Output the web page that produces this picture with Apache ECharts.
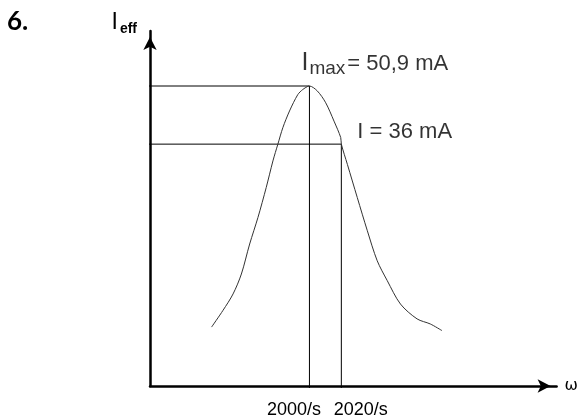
<!DOCTYPE html>
<html>
<head>
<meta charset="utf-8">
<script src="https://cdn.jsdelivr.net/npm/echarts@6/dist/echarts.min.js"></script>
<style>html,body{margin:0;padding:0;background:#fff;}#c{width:581px;height:419px;}</style>
</head>
<body>
<div id="c"></div>
<script>
// angular frequency ω (1/s) and effective current I_eff (mA)
const curveOmega = [1938.6, 1945.8, 1952.1, 1957.3, 1962.5, 1967.7, 1972.9, 1977.1, 1980.2, 1983.3, 1987.5, 1992.7, 1995.8, 1998.9, 2000, 2005, 2010.2, 2015.4, 2019.6, 2020, 2023.8, 2030, 2036.3, 2042.5, 2048.8, 2057.1, 2067.5, 2075.8, 2083.1];
const curveI     = [-10.9, -6.6, -2.4, 2.7, 10.4, 17.2, 24.9, 31.7, 36, 40.2, 44.5, 48.7, 50.0, 50.8, 50.9, 49.6, 46.6, 41.9, 37.7, 36, 30.8, 22.3, 13.8, 6.1, 1.0, -5.0, -8.8, -10.1, -11.8];
const omegaRes = 2000;   // resonance
const omegaHalf = 2020;  // where I = 36 mA
const Imax = 50.9;
const Ihalf = 36;
const xTickLabels = {2000: '2000/s', 2020: '2020/s'};
const xMin = 1900, xMax = 2155, yMin = -26, yMax = 65;
const guideStart = 1897;

const chart = echarts.init(document.getElementById('c'));
const curveData = curveOmega.map((w, i) => [w, curveI[i]]);
const lineStyleGuide = {color: '#000', width: 1};

chart.setOption({
  animation: false,
  backgroundColor: '#fff',
  grid: {left: 150, right: 23, top: 31, bottom: 32, containLabel: false},
  xAxis: {
    type: 'value', min: xMin, max: xMax, interval: 20,
    splitLine: {show: false}, axisTick: {show: false},
    axisLine: {show: true, onZero: false, lineStyle: {color: '#000', width: 2.5}, symbol: ['none', 'arrow'], symbolSize: [10, 13], symbolOffset: [0, -6]},
    name: 'ω', nameLocation: 'end', nameGap: 8,
    nameTextStyle: {fontFamily: 'DejaVu Sans', fontSize: 16, color: '#000', verticalAlign: 'middle'},
    axisLabel: {
      show: true, margin: 15, color: '#000', fontFamily: 'Liberation Sans', fontSize: 18,
      showMaxLabel: false, showMinLabel: false,
      formatter: v => v === omegaRes ? '{a|' + xTickLabels[v] + '}' : (v === omegaHalf ? '{b|' + xTickLabels[v] + '}' : ''),
      rich: {
        a: {fontFamily: 'Liberation Sans', fontSize: 18, color: '#000', padding: [0, 31, 0, 0]},
        b: {fontFamily: 'Liberation Sans', fontSize: 18, color: '#000', padding: [0, 0, 0, 39]}
      }
    }
  },
  yAxis: {
    type: 'value', min: yMin, max: yMax,
    splitLine: {show: false}, axisTick: {show: false}, axisLabel: {show: false},
    axisLine: {show: true, onZero: false, lineStyle: {color: '#000', width: 2.5}, symbol: ['none', 'arrow'], symbolSize: [10, 13], symbolOffset: [0, -6]},
    name: '{i|I}{e|eff}', nameLocation: 'end', nameGap: 8,
    nameTextStyle: {
      align: 'right', verticalAlign: 'middle', padding: [0, 13, 0, 0],
      rich: {
        i: {fontFamily: 'Liberation Sans', fontSize: 23, color: '#000'},
        e: {fontFamily: 'Liberation Sans', fontSize: 14, fontWeight: 'bold', color: '#000', padding: [12, 0, 0, 2]}
      }
    }
  },
  graphic: [{
    type: 'text', left: 7, top: 9,
    style: {text: '6.', font: 'bold 26px Lato', fill: '#000'}
  }],
  series: [
    {
      name: 'curve', type: 'line', data: curveData, smooth: 0.3, showSymbol: false, symbol: 'none',
      lineStyle: {color: '#333', width: 1}, z: 3
    },
    {
      name: 'Imax guide', type: 'line', clip: false, showSymbol: false, symbol: 'none',
      data: [[guideStart, Imax], [omegaRes, Imax], [omegaRes, yMin - 0.5]],
      lineStyle: lineStyleGuide, z: 2
    },
    {
      name: 'I36 guide', type: 'line', clip: false, showSymbol: false, symbol: 'none',
      data: [[guideStart, Ihalf], [omegaHalf, Ihalf], [omegaHalf, yMin - 0.5]],
      lineStyle: lineStyleGuide, z: 2
    },
    {
      name: 'labels', type: 'scatter', symbolSize: 0, silent: true,
      data: [
        {value: [omegaRes, Imax], label: {
          show: true, position: 'top', distance: 0, align: 'left', verticalAlign: 'bottom', offset: [-8, -8],
          formatter: '{i|I}{s|max}{t|= 50,9 mA}',
          rich: {
            i: {fontFamily: 'Liberation Sans', fontSize: 25, color: '#000'},
            s: {fontFamily: 'Liberation Sans', fontSize: 19, color: '#000', padding: [10, 0, 0, 1]},
            t: {fontFamily: 'Liberation Sans', fontSize: 22, color: '#000', padding: [0, 0, 0, 2]}
          }
        }},
        {value: [omegaHalf, Ihalf], label: {
          show: true, position: 'right', distance: 0, align: 'left', verticalAlign: 'middle', offset: [16, -12],
          formatter: 'I = 36 mA', fontFamily: 'Liberation Sans', fontSize: 22, color: '#000'
        }}
      ]
    }
  ]
});
</script>
</body>
</html>
